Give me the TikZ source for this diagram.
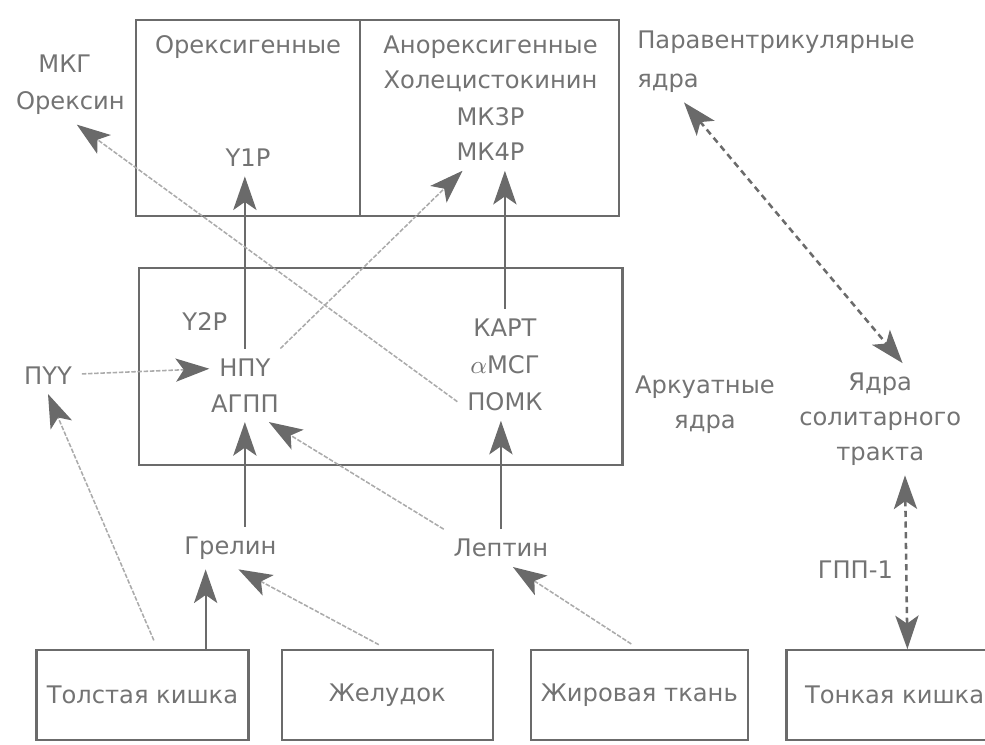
\documentclass[tikz,border=0pt]{standalone}
\usepackage{fontspec}
\setmainfont{DejaVu Sans}
\usepackage{xcolor}
\usepackage{tikz}
\usetikzlibrary{arrows.meta}
\definecolor{HyLine}{HTML}{6B6B6B}
\definecolor{HyText}{HTML}{737373}
\definecolor{HyFaint}{HTML}{ABABAB}
\definecolor{HyHead}{HTML}{6A6A6A}
\tikzset{
  lbl/.style={text=HyText,font=\fontsize{8.6}{12.4}\selectfont,align=center},
  panel/.style={draw=HyLine,line width=0.8pt,lbl},
  hyhead/.tip={Stealth[length=4.2mm,width=2.9mm,inset=1.0mm,color=HyHead]},
  solidarr/.style={draw=HyLine,line width=0.8pt,-{hyhead}},
  faintarr/.style={draw=HyFaint,line width=0.55pt,dash pattern=on 1.6pt off 0.6pt,-{hyhead}},
  dasharr/.style={draw=HyLine,line width=0.9pt,dash pattern=on 2.2pt off 1.6pt,{hyhead}-{hyhead}}
}

\begin{document}
\begin{tikzpicture}[x=1cm,y=1cm]
\path[use as bounding box] (0,0) rectangle (12.31,9.30);
% hypothalamus panels
\node[panel,minimum width=2.80cm,minimum height=2.45cm] (orexbox) at (3.10,7.825) {};
\node[panel,minimum width=3.24cm,minimum height=2.45cm] (anorbox) at (6.12,7.825) {};
\node[panel,minimum width=6.04cm,minimum height=2.46cm] (arcbox) at (4.76,4.72) {};
% organs
\node[panel,minimum width=2.65cm,minimum height=1.125cm] (tolst) at (1.78,0.61) {Толстая кишка};
\node[panel,minimum width=2.64cm,minimum height=1.125cm] (zhel) at (4.84,0.61) {Желудок};
\node[panel,minimum width=2.71cm,minimum height=1.125cm] (fat) at (7.99,0.61) {Жировая ткань};
\node[panel,minimum width=2.70cm,minimum height=1.125cm] (tonk) at (11.18,0.61) {Тонкая кишка};
% labels
\node[lbl] (orexhead) at (3.10,8.71) {Орексигенные};
\node[lbl] (y1p) at (3.10,7.33) {Y1Р};
\node[lbl] (anorhead) at (6.13,8.71) {Анорексигенные};
\node[lbl] (cck) at (6.13,8.28) {Холецистокинин};
\node[lbl] (mkthree) at (6.13,7.84) {МК3Р};
\node[lbl] (mkfour) at (6.13,7.40) {МК4Р};
\node[lbl] (mkg) at (0.81,8.50) {МКГ};
\node[lbl] (orexin) at (0.88,8.01) {Орексин};
\node[lbl,anchor=west] (pvn) at (7.84,8.775) {Паравентрикулярные};
\node[lbl,anchor=west] (pvnya) at (7.84,8.26) {ядра};
\node[lbl] (pyy) at (0.60,4.61) {ПYY};
\node[lbl] (y2p) at (2.56,5.28) {Y2Р};
\node[lbl] (npy) at (3.06,4.71) {НПY};
\node[lbl] (agpp) at (3.06,4.26) {АГПП};
\node[lbl] (kart) at (6.31,5.21) {КАРТ};
\node[lbl] (amsg) at (6.31,4.74) {$\alpha$МСГ};
\node[lbl] (pomk) at (6.31,4.28) {ПОМК};
\node[lbl] (arcnuc) at (8.81,4.24) {Аркуатные\\ядра};
\node[lbl] (nts) at (11.00,4.06) {Ядра\\солитарного\\тракта};
\node[lbl] (ghrelin) at (2.88,2.45) {Грелин};
\node[lbl] (leptin) at (6.26,2.45) {Лептин};
\node[lbl] (glp) at (10.69,2.18) {ГПП-1};
% connectors
\draw[solidarr] (npy) -- (npy |- y1p.south);
\draw[solidarr] (kart) -- (kart |- mkfour.south);
\draw[faintarr] (npy.north east) -- ([xshift=-0.35cm]mkfour.south);
\draw[faintarr] (pomk.west) -- ([xshift=0.08cm]orexin.south);
\draw[faintarr] (pyy) -- (npy);
\coordinate (tkout) at ([xshift=0.19cm]tolst.north);
\coordinate (tkup) at ([xshift=0.79cm]tolst.north);
\draw[faintarr,shorten <=0.12cm] (tkout) -- (pyy.south);
\draw[solidarr] (tkup) -- (tkup |- ghrelin.south);
\draw[faintarr,shorten <=0.12cm] (zhel.north) -- ([xshift=0.1cm]ghrelin.south);
\draw[solidarr] (agpp |- ghrelin.north) -- (agpp.south);
\draw[faintarr] (leptin.north west) -- ([xshift=0.3cm]agpp.south);
\draw[solidarr] (leptin) -- (leptin |- pomk.south);
\draw[faintarr,shorten <=0.12cm] (fat.north) -- ([xshift=0.15cm]leptin.south);
\draw[dasharr] ([xshift=0.2cm]pvnya.south) -- ([xshift=0.28cm]nts.north);
\draw[dasharr] ([xshift=0.31cm]nts.south) -- ([xshift=0.16cm]tonk.north);
\end{tikzpicture}
\end{document}
